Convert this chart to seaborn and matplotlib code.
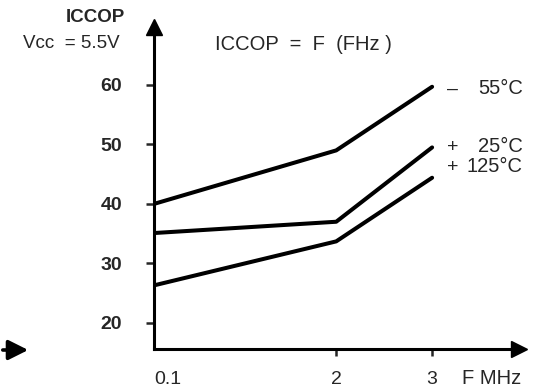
import numpy as np
import pandas as pd
import matplotlib
matplotlib.use("Agg")
import matplotlib.pyplot as plt
import seaborn as sns

# values
freq = [0.1, 2, 3]
icc_m55 = [40.0, 49.0, 59.7]
icc_p25 = [35.1, 37.0, 49.5]
icc_p125 = [26.3, 33.7, 44.4]
temps = ["55°C", "25°C", "125°C"]
signs = ["–", "+", "+"]
yticks = [20, 30, 40, 50, 60]
xticks = [0.1, 2, 3]
xticklabels = ["0.1", "2", "3"]

####################################################################################

sns.set_style("white")
plt.rcParams["font.family"] = ["Liberation Sans", "DejaVu Sans"]

data = pd.DataFrame({
    "F": freq * 3,
    "ICCOP": icc_m55 + icc_p25 + icc_p125,
    "temp": [t for t in temps for _ in freq],
})

fig = plt.figure(figsize=(5.58, 3.90), dpi=100)
ax = fig.add_axes([154 / 558, 1 - 349 / 390, 365 / 558, 322 / 390])

sns.lineplot(data=data, x="F", y="ICCOP", hue="temp", hue_order=temps,
             palette=["black"] * 3, linewidth=2.9, legend=False, ax=ax)

ax.set_xlim(0.1, 3.906)
ax.set_ylim(15.6, 69.75)
ax.set_xlabel("")
ax.set_ylabel("")

for side in ["top", "right"]:
    ax.spines[side].set_visible(False)
for side in ["left", "bottom"]:
    ax.spines[side].set_linewidth(2.2)
    ax.spines[side].set_color("black")

# axis arrows
ax.plot(1, 0, ">k", markersize=12, transform=ax.transAxes, clip_on=False)
ax.plot(0, 1, "^k", markersize=12, transform=ax.transAxes, clip_on=False)

ax.set_yticks(yticks)
ax.set_yticklabels([str(v) for v in yticks], fontsize=14, fontweight="bold")
ax.tick_params(axis="y", direction="out", length=6, width=1.8, pad=17, left=True)

ax.set_xticks(xticks)
ax.set_xticklabels(xticklabels, fontsize=14)
ax.tick_params(axis="x", direction="out", length=5, width=1.8, pad=11, bottom=True)
ax.xaxis.get_major_ticks()[0].tick1line.set_visible(False)
ax.get_xticklabels()[0].set_horizontalalignment("left")

# curve labels
for s, t, y in zip(signs, temps, [89, 147, 167]):
    fig.text(447 / 558, 1 - y / 390, s, fontsize=14, va="center", ha="left")
    fig.text(523 / 558, 1 - y / 390, t, fontsize=14.5, va="center", ha="right")

fig.text(215 / 558, 1 - 44 / 390, "ICCOP  =  F  (FHz )", fontsize=14.5,
         va="center", ha="left")
fig.text(125 / 558, 1 - 17 / 390, "ICCOP", fontsize=13.5, fontweight="bold",
         va="center", ha="right")
fig.text(120 / 558, 1 - 43 / 390, "Vcc  = 5.5V", fontsize=13.5,
         va="center", ha="right")
fig.text(462 / 558, 1 - 378 / 390, "F MHz", fontsize=14.5, va="center", ha="left")

# stray arrow on the left edge
ax.annotate("", xy=(31, 40), xytext=(0, 40), xycoords="figure pixels",
            textcoords="figure pixels",
            arrowprops=dict(arrowstyle="-|>", lw=2.6, color="black",
                            mutation_scale=30))

fig.savefig("out.png", dpi=100)
